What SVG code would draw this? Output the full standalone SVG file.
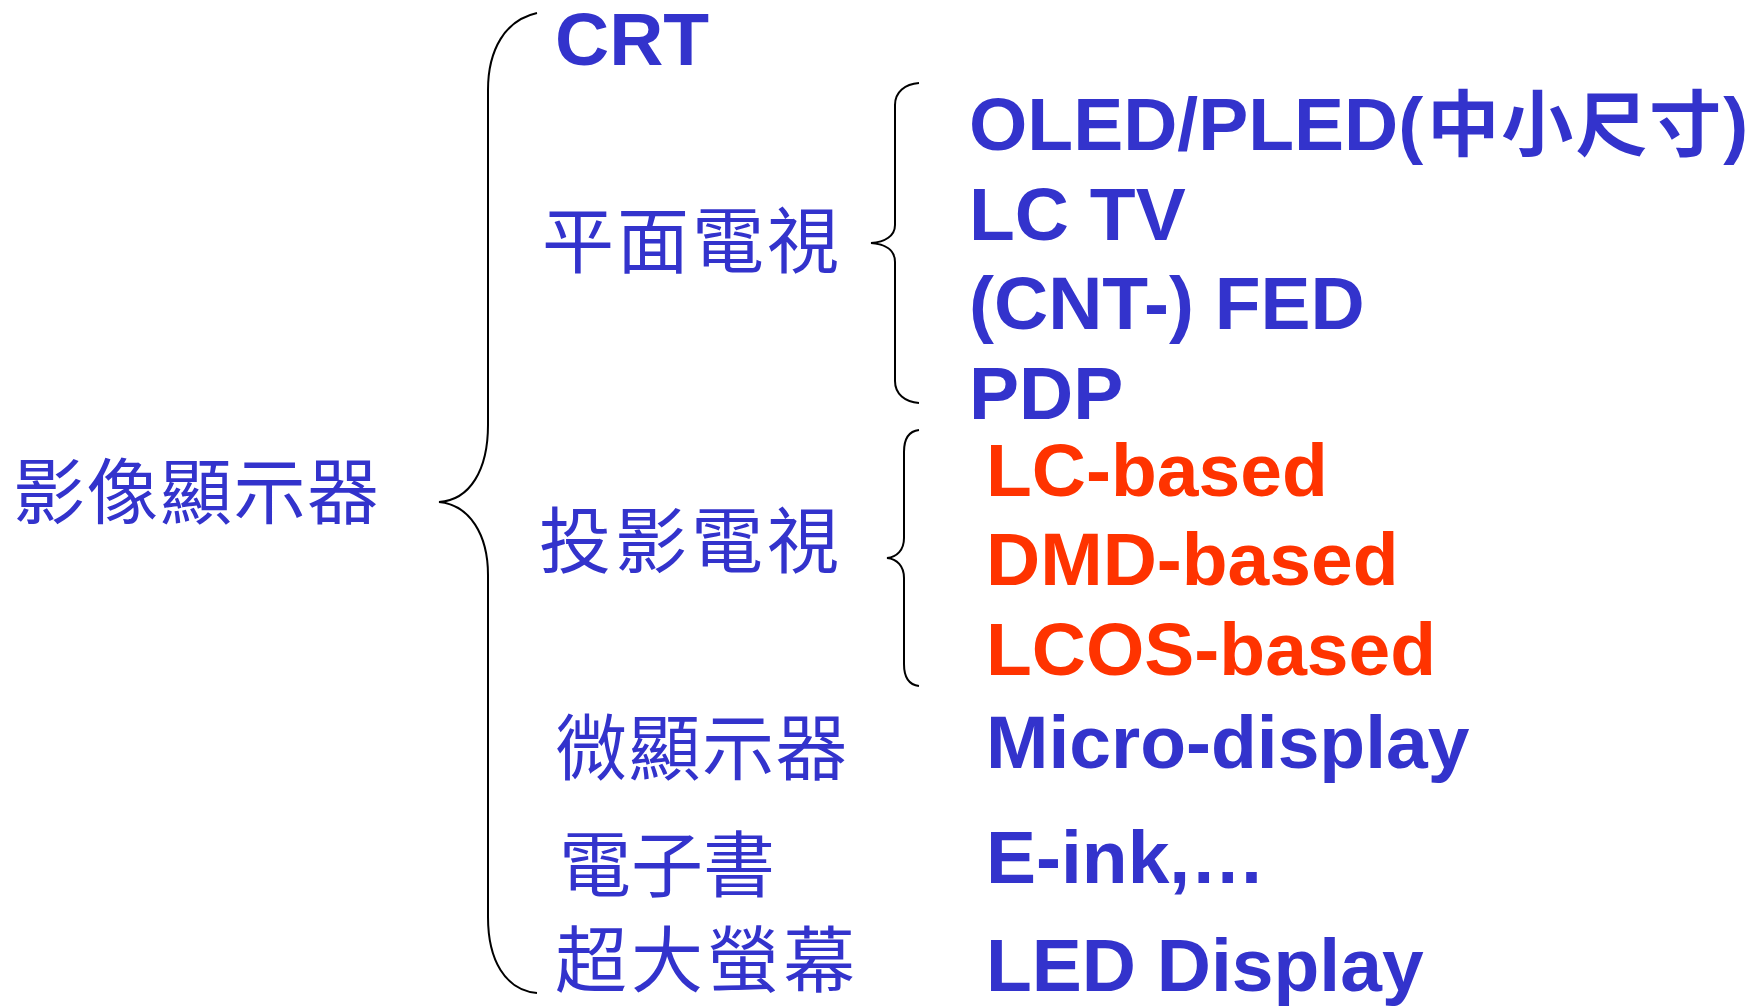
<svg xmlns="http://www.w3.org/2000/svg" width="1760" height="1007" viewBox="0 0 1760 1007">
<style>
.lat{font-family:"Liberation Sans",Arial,sans-serif;font-weight:bold;font-size:75px;fill:#3333CC}
.red{fill:#FF3300}
.cjk{font-family:"Noto Sans CJK TC","Noto Sans CJK SC",sans-serif;font-size:72px;fill:#3333CC}
.brace{fill:none;stroke:#000;stroke-width:2}
</style>
<rect width="1760" height="1007" fill="#fff"/>
<g id="connectors">
<path class="brace" d="M537,13 C505,20 488,50 488,90 L488,425 C488,470 470,500 439,502 C470,505 488,535 488,575 L488,917 C488,960 505,990 537,993"/>
<path class="brace" d="M919,83 C905,84 895,92 895,105 L895,225 C895,236 885,242 871,243 C885,244 895,250 895,262 L895,381 C895,394 905,402 919,403"/>
<path class="brace" d="M919,430 C910,431 904,438 904,452 L904,538 C904,550 897,557 887,558 C897,559 904,566 904,578 L904,664 C904,678 910,685 919,686"/>
</g>
<g id="root"><text class="cjk" x="13" y="518" letter-spacing="1.5">影像顯示器</text></g>
<g id="crt"><text class="lat" x="555" y="65">CRT</text></g>
<g id="flat-tv"><text class="cjk" x="542" y="267" letter-spacing="3">平面電視</text></g>
<g id="proj-tv"><text class="cjk" x="539" y="567" letter-spacing="4">投影電視</text></g>
<g id="micro"><text class="cjk" x="555" y="774" letter-spacing="1.5">微顯示器</text></g>
<g id="ebook"><text class="cjk" x="559" y="891">電子書</text></g>
<g id="large"><text class="cjk" x="555" y="986" letter-spacing="4">超大螢幕</text></g>
<g id="oled"><text class="lat" x="969" y="150">OLED/PLED(<tspan class="cjk" font-size="68" dx="4" letter-spacing="2">中小尺寸</tspan><tspan dx="0">)</tspan></text></g>
<g id="lctv"><text class="lat" x="969" y="240">LC TV</text></g>
<g id="fed"><text class="lat" x="969" y="329">(CNT-) FED</text></g>
<g id="pdp"><text class="lat" x="969" y="419">PDP</text></g>
<g id="lc-based"><text class="lat red" x="986" y="496">LC-based</text></g>
<g id="dmd-based"><text class="lat red" x="986" y="585">DMD-based</text></g>
<g id="lcos-based"><text class="lat red" x="986" y="675">LCOS-based</text></g>
<g id="micro-display"><text class="lat" x="986" y="768">Micro-display</text></g>
<g id="eink"><text class="lat" x="986" y="883">E-ink,…</text></g>
<g id="led"><text class="lat" x="986" y="991">LED Display</text></g>
</svg>
